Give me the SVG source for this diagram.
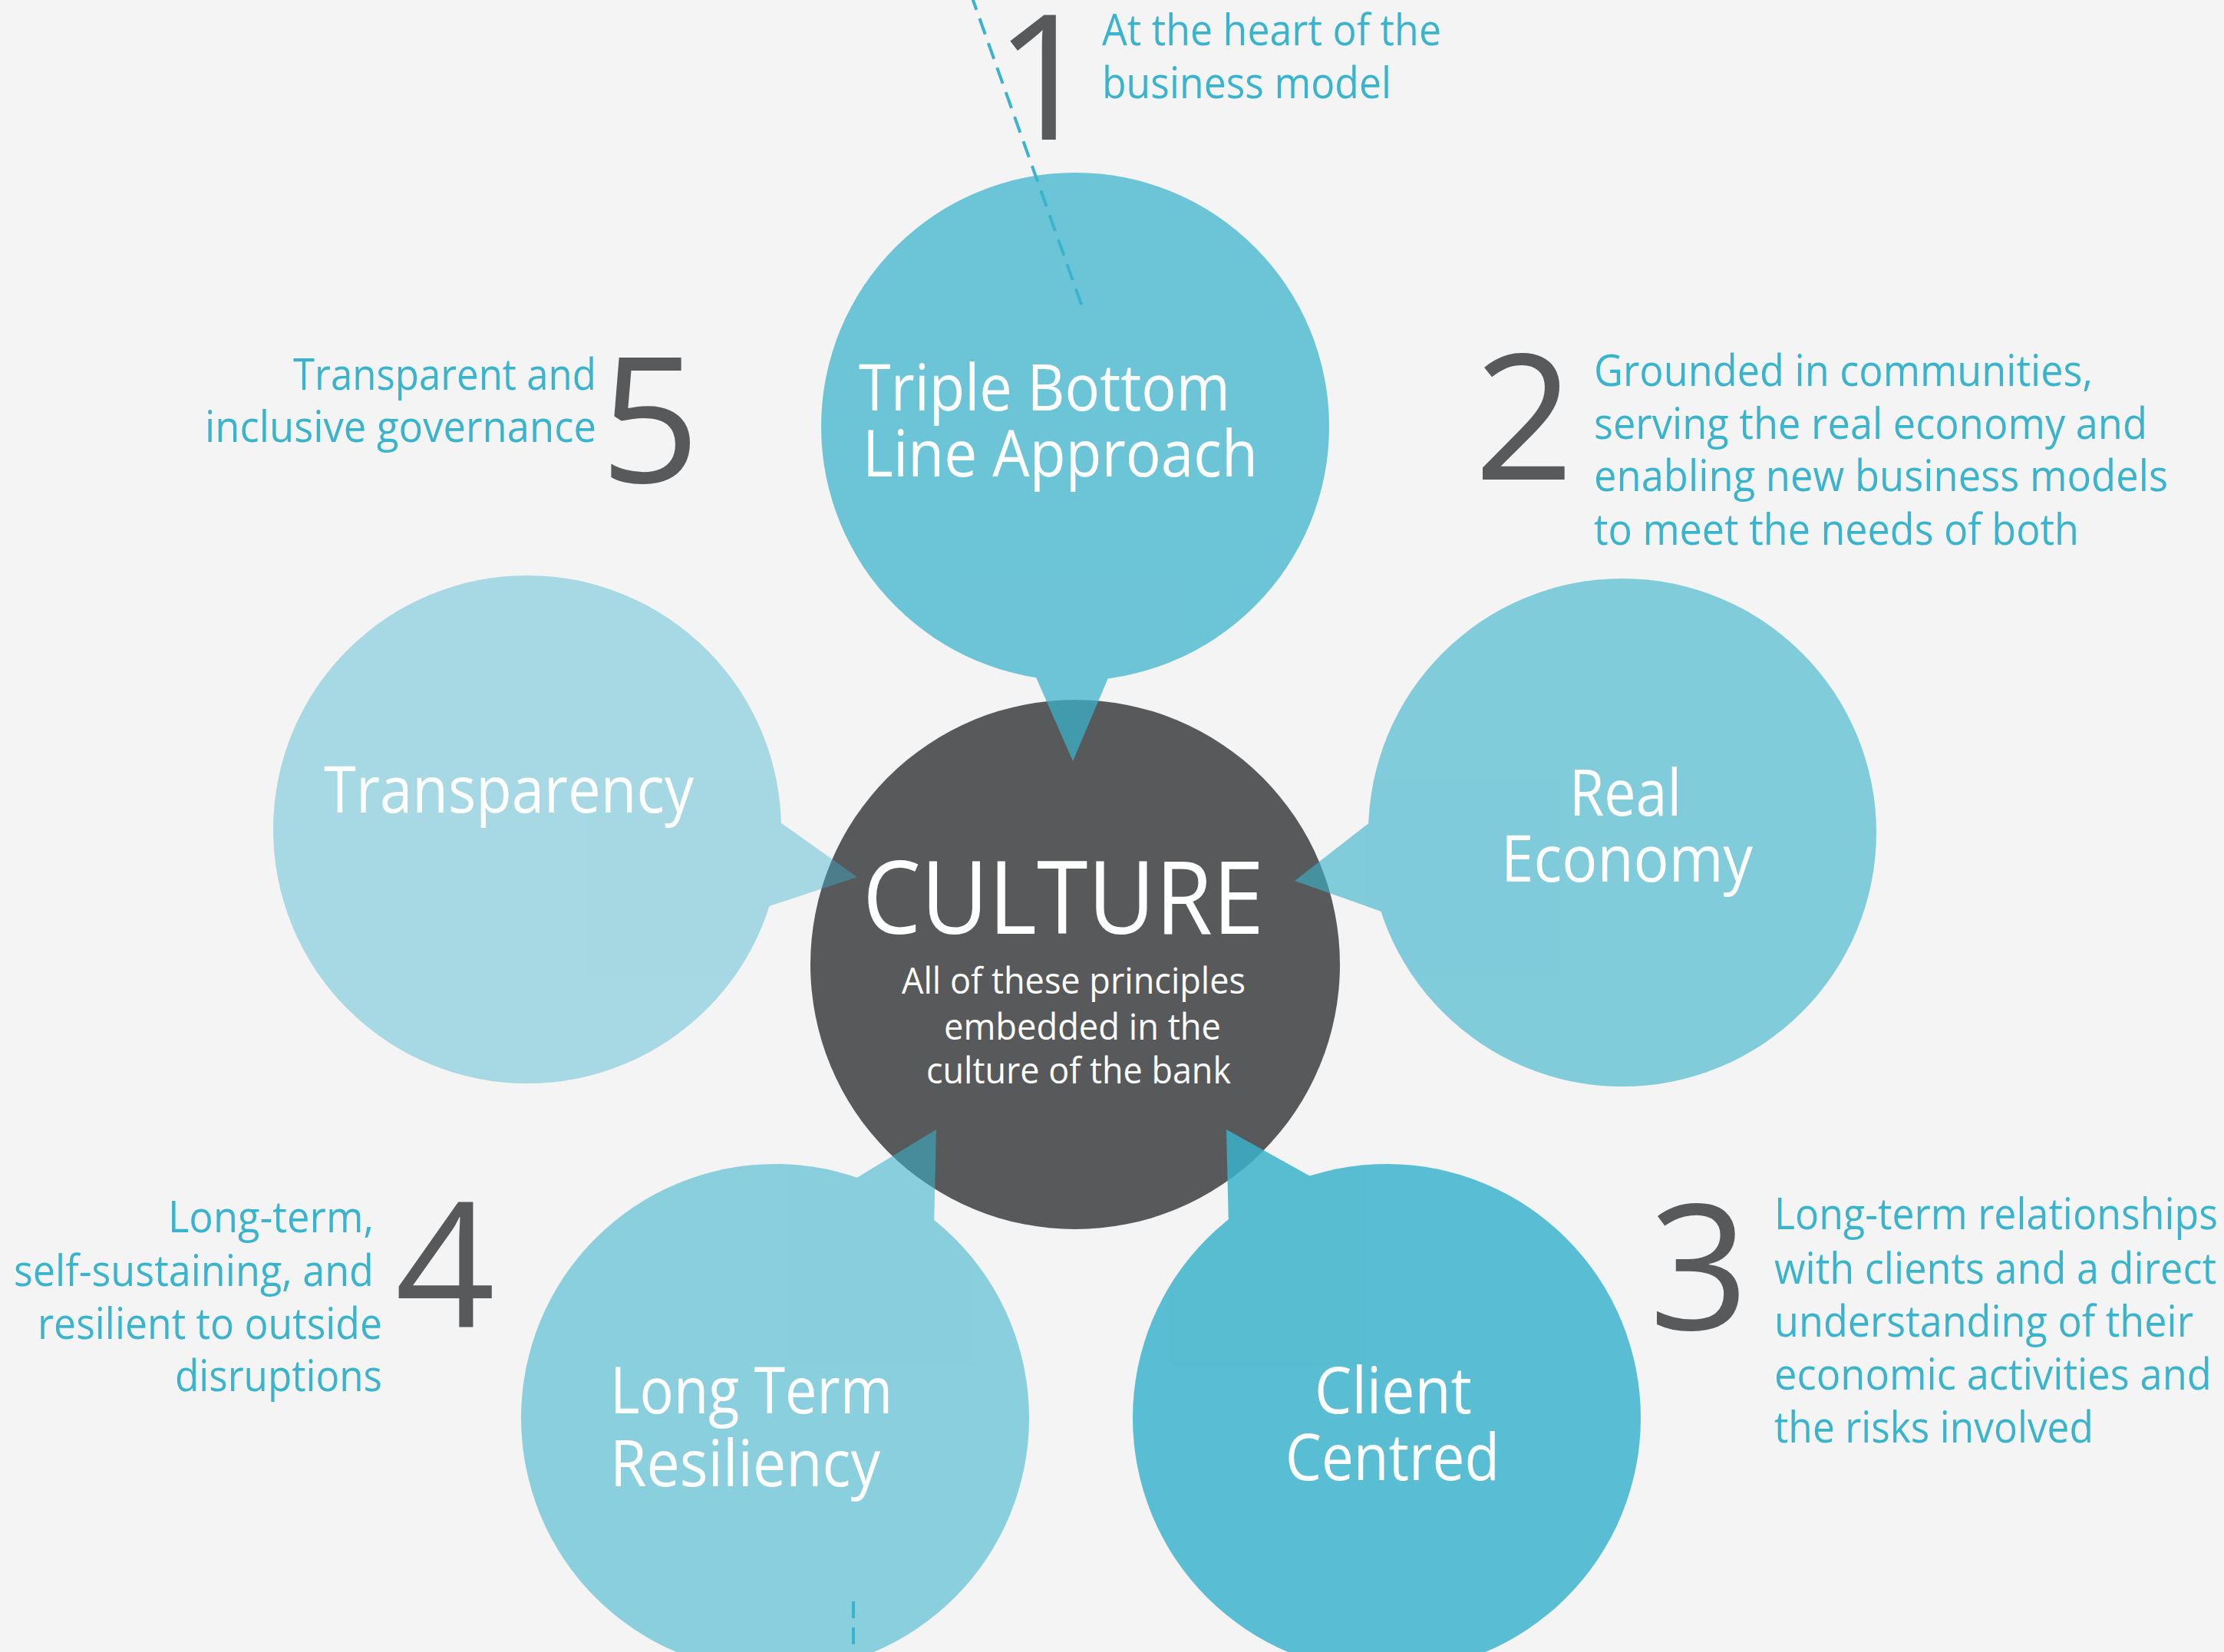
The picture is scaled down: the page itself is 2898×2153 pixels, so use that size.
<svg xmlns="http://www.w3.org/2000/svg" width="2898" height="2153" viewBox="0 0 2898 2153">
<style>
.teal{fill:#3ab3cc}
.num{font-family:"Open Sans","Liberation Sans",sans-serif;font-size:228px;fill:#58595b;text-anchor:middle}
.desc{font-family:"Open Sans","Liberation Sans",sans-serif;font-size:56px;fill:#3ab3cc}
.lbl{font-family:"Open Sans","Liberation Sans",sans-serif;font-size:84px;fill:#ffffff}
.big{font-family:"Open Sans","Liberation Sans",sans-serif;font-size:132px;fill:#ffffff}
.sub{font-family:"Open Sans","Liberation Sans",sans-serif;font-size:48px;fill:#ffffff}
.dash{stroke:#3ab3cc;stroke-width:4;stroke-dasharray:22 12;fill:none}
</style>
<rect x="0" y="0" width="2898" height="2153" fill="#f4f4f4"/>

<g id="node-culture">
<circle cx="1401" cy="1257" r="345" fill="#58595b"/>
</g>

<g id="node-triple-bottom-line" opacity="0.73">
<circle class="teal" cx="1401" cy="556" r="331"/>
<polygon class="teal" points="1340,860 1454,860 1398,992"/>
</g>
<g id="node-real-economy" opacity="0.62">
<circle class="teal" cx="2114" cy="1085" r="331"/>
<polygon class="teal" points="1800,1060 1687,1148 1820,1195"/>
</g>
<g id="node-client-centred" opacity="0.83">
<circle class="teal" cx="1807" cy="1848" r="331"/>
<polygon class="teal" points="1598,1472 1601,1600 1720,1540"/>
</g>
<g id="node-long-term-resiliency" opacity="0.57">
<circle class="teal" cx="1010" cy="1848" r="331"/>
<polygon class="teal" points="1220,1472 1100,1545 1217,1600"/>
</g>
<g id="node-transparency" opacity="0.42">
<circle class="teal" cx="687" cy="1081" r="331"/>
<polygon class="teal" points="1000,1060 1117,1143 990,1185"/>
</g>

<g id="connectors">
<line class="dash" x1="1265" y1="-8" x2="1412" y2="405"/>
<line class="dash" x1="1112" y1="2087" x2="1112" y2="2160"/>
</g>

<g id="node-culture-text">
<text class="big" x="1124" y="1217" textLength="523" lengthAdjust="spacingAndGlyphs">CULTURE</text>
<text class="sub" x="1175" y="1295" textLength="448" lengthAdjust="spacingAndGlyphs">All of these principles</text>
<text class="sub" x="1230" y="1355" textLength="361" lengthAdjust="spacingAndGlyphs">embedded in the</text>
<text class="sub" x="1207" y="1412" textLength="397" lengthAdjust="spacingAndGlyphs">culture of the bank</text>
</g>

<g id="labels-circles">
<text class="lbl" x="1119" y="535" textLength="484" lengthAdjust="spacingAndGlyphs">Triple Bottom</text>
<text class="lbl" x="1124" y="621" textLength="515" lengthAdjust="spacingAndGlyphs">Line Approach</text>
<text class="lbl" x="2045" y="1063" textLength="146" lengthAdjust="spacingAndGlyphs">Real</text>
<text class="lbl" x="1956" y="1149" textLength="328" lengthAdjust="spacingAndGlyphs">Economy</text>
<text class="lbl" x="422" y="1059" textLength="482" lengthAdjust="spacingAndGlyphs">Transparency</text>
<text class="lbl" x="795" y="1842" textLength="368" lengthAdjust="spacingAndGlyphs">Long Term</text>
<text class="lbl" x="795" y="1937" textLength="352" lengthAdjust="spacingAndGlyphs">Resiliency</text>
<text class="lbl" x="1713" y="1842" textLength="205" lengthAdjust="spacingAndGlyphs">Client</text>
<text class="lbl" x="1675" y="1929" textLength="279" lengthAdjust="spacingAndGlyphs">Centred</text>
</g>

<g id="annotation-1">
<text class="num" x="1361" y="182">1</text>
<text class="desc" x="1436" y="59" textLength="442" lengthAdjust="spacingAndGlyphs">At the heart of the</text>
<text class="desc" x="1436" y="128" textLength="377" lengthAdjust="spacingAndGlyphs">business model</text>
</g>
<g id="annotation-2">
<text class="num" x="1986" y="625">2</text>
<text class="desc" x="2077" y="503" textLength="650" lengthAdjust="spacingAndGlyphs">Grounded in communities,</text>
<text class="desc" x="2077" y="572" textLength="721" lengthAdjust="spacingAndGlyphs">serving the real economy and</text>
<text class="desc" x="2077" y="640" textLength="748" lengthAdjust="spacingAndGlyphs">enabling new business models</text>
<text class="desc" x="2077" y="710" textLength="632" lengthAdjust="spacingAndGlyphs">to meet the needs of both</text>
</g>
<g id="annotation-3">
<text class="num" x="2214" y="1733">3</text>
<text class="desc" x="2312" y="1602" textLength="578" lengthAdjust="spacingAndGlyphs">Long-term relationships</text>
<text class="desc" x="2312" y="1673" textLength="576" lengthAdjust="spacingAndGlyphs">with clients and a direct</text>
<text class="desc" x="2312" y="1742" textLength="546" lengthAdjust="spacingAndGlyphs">understanding of their</text>
<text class="desc" x="2312" y="1811" textLength="570" lengthAdjust="spacingAndGlyphs">economic activities and</text>
<text class="desc" x="2312" y="1880" textLength="416" lengthAdjust="spacingAndGlyphs">the risks involved</text>
</g>
<g id="annotation-4">
<text class="num" x="580" y="1730">4</text>
<text class="desc" x="219" y="1606" textLength="268" lengthAdjust="spacingAndGlyphs">Long-term,</text>
<text class="desc" x="18" y="1676" textLength="469" lengthAdjust="spacingAndGlyphs">self-sustaining, and</text>
<text class="desc" x="49" y="1745" textLength="449" lengthAdjust="spacingAndGlyphs">resilient to outside</text>
<text class="desc" x="228" y="1813" textLength="270" lengthAdjust="spacingAndGlyphs">disruptions</text>
</g>
<g id="annotation-5">
<text class="num" x="847" y="629">5</text>
<text class="desc" x="382" y="508" textLength="395" lengthAdjust="spacingAndGlyphs">Transparent and</text>
<text class="desc" x="267" y="576" textLength="510" lengthAdjust="spacingAndGlyphs">inclusive governance</text>
</g>
</svg>
